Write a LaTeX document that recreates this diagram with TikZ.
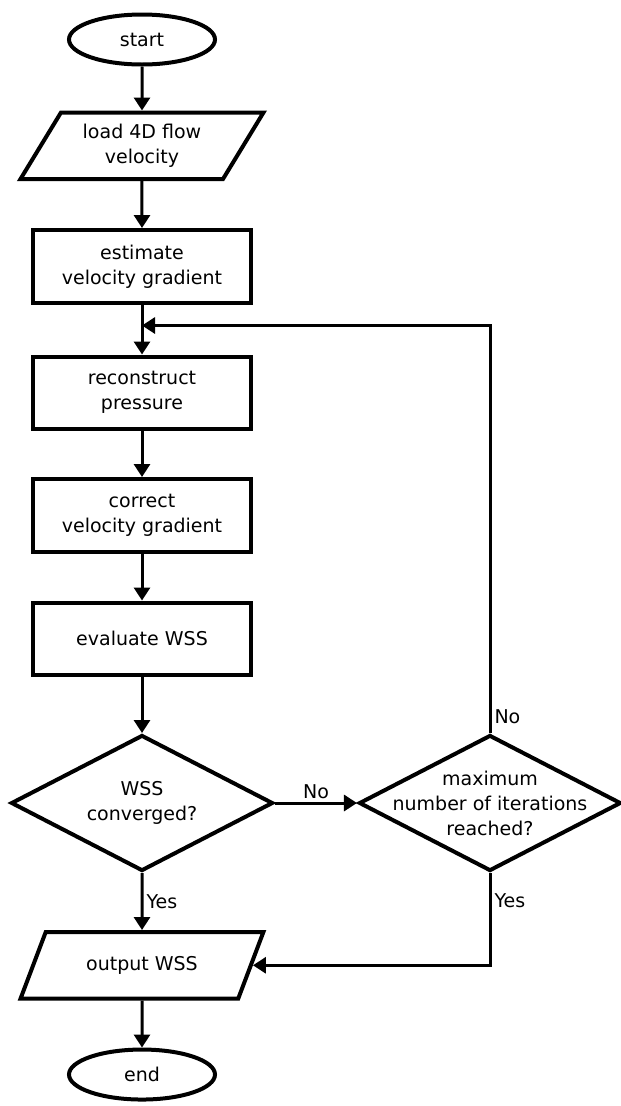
\documentclass[tikz,border=0pt]{standalone}
\usepackage{fontspec}
\setmainfont{DejaVu Sans}
\usetikzlibrary{positioning,arrows.meta,shapes.geometric}
\tikzset{
    terminal/.style={ellipse, draw=black, line width=4pt, minimum width=146pt, minimum height=50pt, inner sep=0pt},
    io/.style={trapezium, trapezium left angle=58, trapezium right angle=122, trapezium stretches=true, draw=black, line width=4pt, minimum width=243pt, minimum height=66.5pt, align=center},
    block/.style={rectangle, draw=black, line width=4pt, minimum width=218pt, minimum height=72.5pt, align=center},
    decision/.style={diamond, draw=black, line width=4pt, minimum width=262pt, minimum height=136pt, inner sep=0pt},
    line/.style={-{Triangle[length=13pt,width=16pt]}, line width=3pt},
    answer/.style={inner sep=3pt},
}

\begin{document}
\begin{tikzpicture}
        [node distance=47pt, font=\fontsize{19}{25}\selectfont]

        \useasboundingbox (0,0) rectangle (621pt,-1106pt);

        \node[terminal] (start) at (142pt,-39.5pt) {start};
        \node[io, below=44pt of start] (load) {load 4D flow\\velocity};
        \node[block, below=of load] (estimate) {estimate\\velocity gradient};
        \coordinate[below=21pt of estimate] (join);
        \node[block, below=50pt of estimate] (reconstruct) {reconstruct\\pressure};
        \node[block, below=46pt of reconstruct] (correct) {correct\\velocity gradient};
        \node[block, below=of correct] (evaluate) {evaluate WSS};
        \node[decision, below=56pt of evaluate, label={[align=center]center:WSS\\converged?}] (converged) {};
        \node[decision, right=82pt of converged, label={[align=center]center:maximum\\number of iterations\\reached?}] (maxiter) {};
        \node[io, below=57pt of converged] (output) {output WSS};
        \node[terminal, below=47pt of output] (stop) {end};

        \draw[line] (start) -- (load);
        \draw[line] (load) -- (estimate);
        \draw[line] (estimate) -- (reconstruct);
        \draw[line] (reconstruct) -- (correct);
        \draw[line] (correct) -- (evaluate);
        \draw[line] (evaluate) -- (converged);
        \draw[line] (converged) -- node[answer, above] {No} (maxiter);
        \draw[line] (converged) -- node[answer, right] {Yes} (output);
        \draw[line] (maxiter.north) |- node[answer, pos=0.02, right] {No} (join);
        \draw[line] (maxiter.south) |- node[answer, pos=0.15, right] {Yes} (output.east);
        \draw[line] (output) -- (stop);

    \end{tikzpicture}
\end{document}
